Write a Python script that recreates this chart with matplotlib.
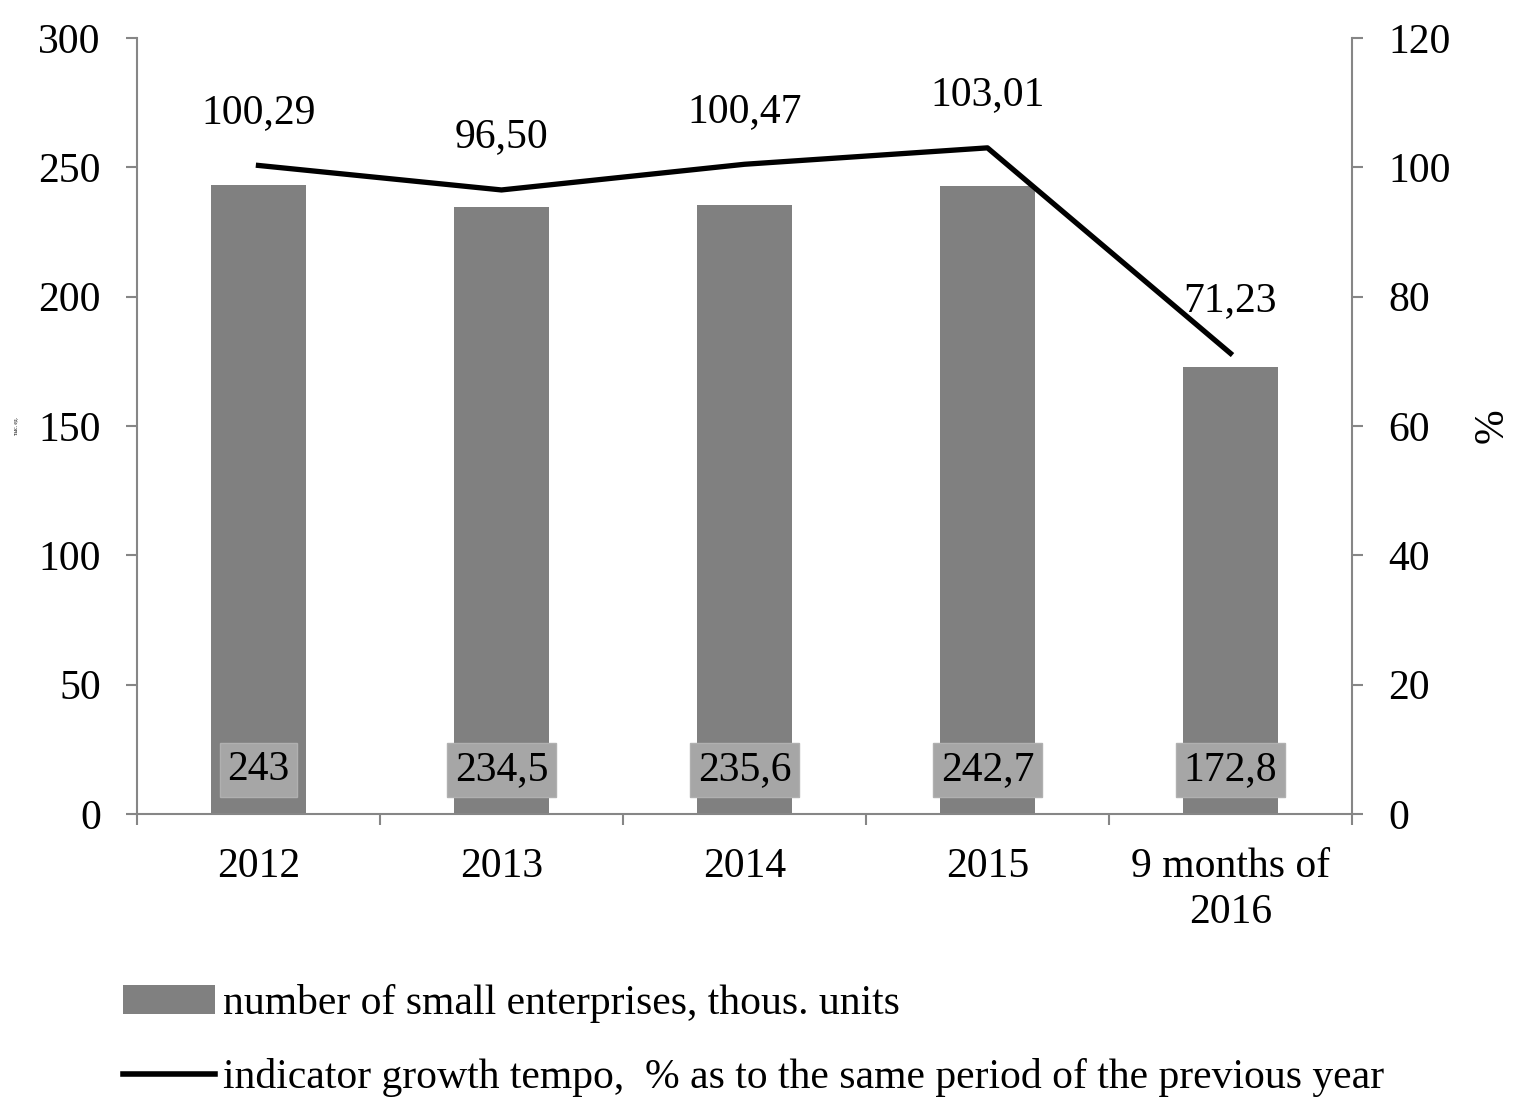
import matplotlib
matplotlib.use("Agg")
import matplotlib.pyplot as plt
from matplotlib.patches import Patch
from matplotlib.lines import Line2D

categories = ["2012", "2013", "2014", "2015", "9 months of\n2016"]
enterprises = [243, 234.5, 235.6, 242.7, 172.8]
enterprise_labels = ["243", "234,5", "235,6", "242,7", "172,8"]
growth = [100.29, 96.50, 100.47, 103.01, 71.23]
growth_labels = ["100,29", "96,50", "100,47", "103,01", "71,23"]

plt.rcParams['font.family'] = ['Liberation Serif', 'DejaVu Serif']
FS = 30
spine_c = "#868686"

fig = plt.figure(figsize=(15.15, 10.98), dpi=100)
ax = fig.add_axes([0.0904, 0.2587, 0.8020, 0.7067])
ax2 = ax.twinx()

x = list(range(len(categories)))
ax.bar(x, enterprises, width=0.39, color="#808080", zorder=2)
for xi, lab in zip(x, enterprise_labels):
    ax.text(xi, 17, lab, ha="center", va="center", fontsize=FS, color="black", zorder=5,
            bbox=dict(boxstyle="square,pad=0.18", facecolor="#a6a6a6", edgecolor="#b0b0b0", linewidth=1))

ax.set_xlim(-0.5, 4.5)
ax.set_ylim(0, 300)
ax.set_yticks(range(0, 301, 50))
ax.set_xticks(x)
ax.set_xticklabels(categories, fontsize=FS, linespacing=1.25)
ax.set_xticks([i - 0.5 for i in range(len(categories) + 1)], minor=True)
ax.tick_params(axis='x', which='major', length=0, pad=24)
ax.tick_params(axis='x', which='minor', length=8, direction='out', color=spine_c, width=1.5)
ax.tick_params(axis='y', labelsize=FS, length=8, direction='out', color=spine_c, width=1.5, pad=18)
for s in ["top", "right"]:
    ax.spines[s].set_visible(False)
for s in ["left", "bottom"]:
    ax.spines[s].set_color(spine_c)
    ax.spines[s].set_linewidth(1.5)
ax.set_ylabel("тыс. ед.", fontsize=4, labelpad=14)

ax2.plot(x, growth, color="black", linewidth=3.8, zorder=4)
for xi, g, lab in zip(x, growth, growth_labels):
    ax2.annotate(lab, (xi, g), xytext=(0, 38), textcoords="offset points",
                 ha="center", va="center", fontsize=FS)
ax2.set_ylim(0, 120)
ax2.set_yticks(range(0, 121, 20))
ax2.tick_params(axis='y', labelsize=FS, length=8, direction='out', color=spine_c, width=1.5, pad=18)
for s in ["top", "left", "bottom"]:
    ax2.spines[s].set_visible(False)
ax2.spines["right"].set_color(spine_c)
ax2.spines["right"].set_linewidth(1.5)
ax2.set_ylabel("%", fontsize=FS, labelpad=16)

handles = [Patch(facecolor="#808080", edgecolor="none"),
           Line2D([0], [0], color="black", linewidth=4)]
labels = ["number of small enterprises, thous. units",
          "indicator growth tempo,  % as to the same period of the previous year"]
fig.legend(handles, labels, loc="lower left", bbox_to_anchor=(0.065, -0.022), frameon=False,
           fontsize=FS, handlelength=2.2, handletextpad=0.2, labelspacing=0.85, borderaxespad=0.2)

fig.savefig("out.png", dpi=100)
